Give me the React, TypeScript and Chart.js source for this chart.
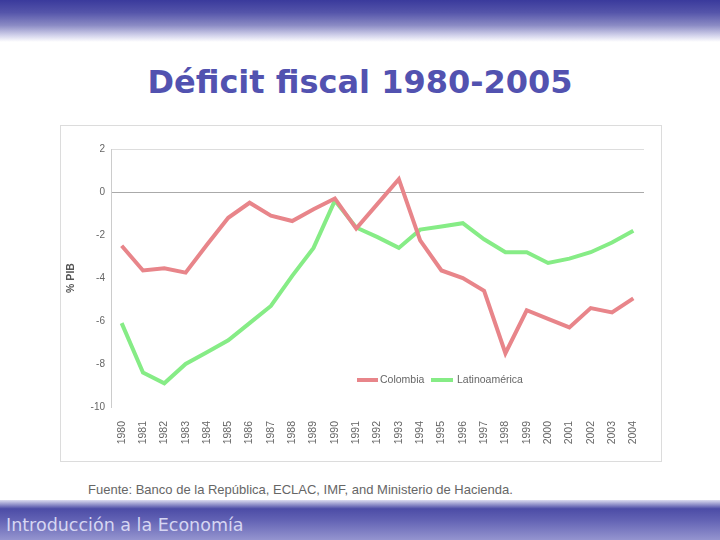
import React, { useEffect, useRef } from "react";
import { Chart, registerables } from "chart.js";

Chart.register(...registerables);

const years = [
  "1980", "1981", "1982", "1983", "1984", "1985", "1986", "1987", "1988", "1989",
  "1990", "1991", "1992", "1993", "1994", "1995", "1996", "1997", "1998", "1999",
  "2000", "2001", "2002", "2003", "2004",
];

const colombia = [
  -2.5, -3.65, -3.55, -3.75, -2.45, -1.2, -0.5, -1.1, -1.35, -0.8,
  -0.3, -1.7, -0.55, 0.6, -2.25, -3.65, -4.0, -4.6, -7.5, -5.5,
  -5.9, -6.3, -5.4, -5.6, -4.95,
];

const latinoamerica = [
  -6.1, -8.4, -8.9, -8.0, -7.45, -6.9, -6.1, -5.3, -3.9, -2.6,
  -0.4, -1.65, -2.1, -2.6, -1.75, -1.6, -1.45, -2.2, -2.8, -2.8,
  -3.3, -3.1, -2.8, -2.35, -1.8,
];

const seriesNames = ["Colombia", "Latinoamérica"];
const seriesColors = ["#e8858a", "#86ec86"];

const yMin = -10;
const yMax = 2;
const yStep = 2;

const titleText = "Déficit fiscal 1980-2005";
const yAxisTitle = "% PIB";
const sourceText = "Fuente: Banco de la República, ECLAC, IMF, and Ministerio de Hacienda.";
const footerText = "Introducción a la Economía";

export default function App() {
  const canvasRef = useRef<HTMLCanvasElement | null>(null);

  useEffect(() => {
    document.body.style.margin = "0";
    const canvas = canvasRef.current;
    if (!canvas) return;
    const chart = new Chart(canvas, {
      type: "line",
      data: {
        labels: years,
        datasets: [
          {
            label: seriesNames[0],
            data: colombia,
            borderColor: seriesColors[0],
            backgroundColor: seriesColors[0],
            borderWidth: 4,
            pointRadius: 0,
            tension: 0,
          },
          {
            label: seriesNames[1],
            data: latinoamerica,
            borderColor: seriesColors[1],
            backgroundColor: seriesColors[1],
            borderWidth: 4,
            pointRadius: 0,
            tension: 0,
          },
        ],
      },
      options: {
        animation: false,
        responsive: false,
        devicePixelRatio: 1,
        layout: { padding: { top: 23, right: 17, left: 0, bottom: 0 } },
        plugins: {
          legend: { display: false },
          tooltip: { enabled: false },
        },
        scales: {
          x: {
            offset: true,
            grid: { display: false },
            border: { display: false },
            ticks: {
              maxRotation: 90,
              minRotation: 90,
              autoSkip: false,
              color: "#666",
              padding: 6,
              font: { family: "Liberation Sans, Arial, sans-serif", size: 10.5 },
            },
            afterFit: (scale: any) => {
              scale.height = 54;
            },
          },
          y: {
            min: yMin,
            max: yMax,
            ticks: {
              stepSize: yStep,
              color: "#666",
              padding: 6,
              font: { family: "Liberation Sans, Arial, sans-serif", size: 10 },
            },
            grid: {
              drawTicks: false,
              color: (ctx: any) => {
                const v = ctx.tick ? ctx.tick.value : null;
                if (v === 0) return "#aaaaaa";
                if (v === yMax) return "#dddddd";
                return "rgba(0,0,0,0)";
              },
              lineWidth: 1,
            },
            border: { display: true, color: "#cccccc" },
            title: {
              display: true,
              text: yAxisTitle,
              color: "#555",
              font: { family: "Liberation Sans, Arial, sans-serif", size: 10.5, weight: "bold" },
              padding: { top: 4, bottom: 2 },
            },
            afterFit: (scale: any) => {
              scale.width = 50;
            },
          },
        },
      },
    });
    return () => chart.destroy();
  }, []);

  const legendText: React.CSSProperties = {
    position: "absolute",
    top: 373,
    fontFamily: "Liberation Sans, Arial, sans-serif",
    fontSize: 10.5,
    color: "#666",
    lineHeight: "13px",
    whiteSpace: "nowrap",
  };

  return (
    <div
      style={{
        position: "absolute",
        left: 0,
        top: 0,
        width: 720,
        height: 540,
        background: "#ffffff",
        overflow: "hidden",
        fontFamily: "DejaVu Sans, sans-serif",
      }}
    >
      <div
        style={{
          position: "absolute",
          left: 0,
          top: 0,
          width: 720,
          height: 42,
          background:
            "linear-gradient(to bottom, #3a3a9c 0%, #5555aa 30%, #8a8ac4 60%, #d4d4ec 85%, #ffffff 100%)",
        }}
      />
      <div
        style={{
          position: "absolute",
          left: 0,
          top: 59,
          width: 720,
          textAlign: "center",
          fontFamily: "DejaVu Sans, Verdana, sans-serif",
          fontWeight: "bold",
          fontSize: 32,
          lineHeight: "46px",
          color: "#5252b0",
        }}
      >
        {titleText}
      </div>
      <div
        style={{
          position: "absolute",
          left: 60,
          top: 125,
          width: 602,
          height: 337,
          border: "1px solid #dcdcdc",
          boxSizing: "border-box",
          background: "#fff",
        }}
      >
        <canvas
          ref={canvasRef}
          width={600}
          height={335}
          style={{ display: "block", width: 600, height: 335 }}
        />
      </div>
      <div
        style={{
          position: "absolute",
          left: 357,
          top: 378,
          width: 21,
          height: 4,
          background: seriesColors[0],
        }}
      />
      <div style={{ ...legendText, left: 380 }}>{seriesNames[0]}</div>
      <div
        style={{
          position: "absolute",
          left: 431,
          top: 378,
          width: 22,
          height: 4,
          background: seriesColors[1],
        }}
      />
      <div style={{ ...legendText, left: 457 }}>{seriesNames[1]}</div>
      <div
        style={{
          position: "absolute",
          left: 88,
          top: 482,
          fontFamily: "Liberation Sans, Arial, sans-serif",
          fontSize: 13,
          color: "#666",
          whiteSpace: "nowrap",
        }}
      >
        {sourceText}
      </div>
      <div
        style={{
          position: "absolute",
          left: 0,
          top: 500,
          width: 720,
          height: 40,
          background:
            "linear-gradient(to bottom, #dcdcf0 0%, #4c4ca6 22%, #6262b4 50%, #9494cf 100%)",
        }}
      />
      <div
        style={{
          position: "absolute",
          left: 6,
          top: 515,
          fontFamily: "DejaVu Sans, Verdana, sans-serif",
          fontSize: 17.5,
          color: "#d6d6f2",
          whiteSpace: "nowrap",
        }}
      >
        {footerText}
      </div>
    </div>
  );
}
